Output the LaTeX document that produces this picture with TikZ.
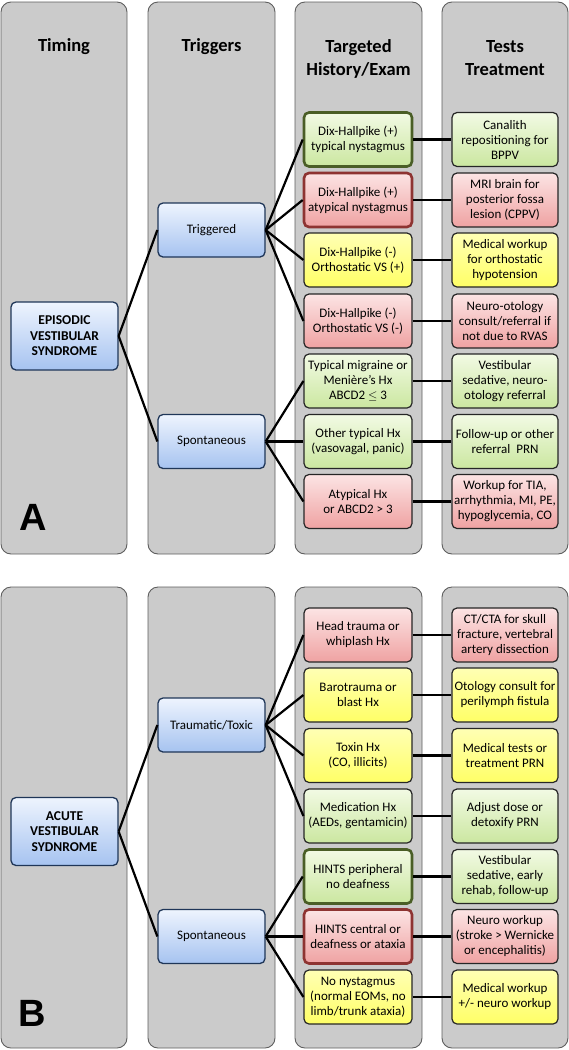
\documentclass[tikz,border=0pt]{standalone}
\usepackage{fontspec}
\setmainfont{Carlito}
\newfontfamily\panelfont{Liberation Sans}
\usepackage{tikz}

\definecolor{lanefill}{HTML}{CBCBCB}
\definecolor{laneline}{HTML}{5E5E5E}
\definecolor{blueT}{HTML}{EEF4FE}
\definecolor{blueB}{HTML}{A6C3F0}
\definecolor{blueline}{HTML}{1F3658}
\definecolor{greenT}{HTML}{F2FAE4}
\definecolor{greenB}{HTML}{CBE7A0}
\definecolor{greenline}{HTML}{4A5E26}
\definecolor{redT}{HTML}{FCE4E4}
\definecolor{redB}{HTML}{EFA2A2}
\definecolor{redline}{HTML}{8E3432}
\definecolor{yelT}{HTML}{FFFFB4}
\definecolor{yelB}{HTML}{FFFF66}
\definecolor{boxline}{HTML}{262626}

\begin{document}
\begin{tikzpicture}[x=1pt, y=-1pt,
    lane/.style={draw=laneline, fill=lanefill, rounded corners=10pt, line width=0.9pt},
    head/.style={font=\fontsize{18.5}{23}\selectfont\bfseries, align=center},
    trig/.style={draw=blueline, line width=1.3pt, rounded corners=5pt, top color=blueT, bottom color=blueB,
                 minimum width=107pt, minimum height=54pt, font=\fontsize{13}{15}\selectfont, align=center},
    syn/.style={trig, minimum height=68pt, font=\fontsize{13.5}{15.5}\selectfont\bfseries},
    cbox/.style={draw=boxline, line width=1.2pt, rounded corners=5pt, top color=#1T, bottom color=#1B,
                 minimum height=54pt, inner sep=0.5pt, font=\fontsize{13}{15}\selectfont, align=center},
    hx/.style={cbox=#1, minimum width=108pt},
    tx/.style={cbox=#1, minimum width=106pt},
    heavy/.style={draw=#1line, line width=2.6pt},
    link/.style={line width=2.2pt, black}]

\useasboundingbox (0,0) rectangle (569,1050);

% lanes
\foreach \xa/\xb in {1/127, 148/275, 295/422, 442/568} {
    \draw[lane] (\xa,2) rectangle (\xb,554);
    \draw[lane] (\xa,587) rectangle (\xb,1048);
}

% headers
\node[head] (hTime) at (64,47) {Timing};
\node[head] (hTrig) at (211.5,47) {Triggers};
\node[head] (hHx) at (358.5,58.5) {Targeted\\History/Exam};
\node[head] (hTx) at (505,58.5) {Tests\\Treatment};

% Panel A
\node[syn] (aTime) at (64.5,336) {EPISODIC\\VESTIBULAR\\SYNDROME};
\node[trig] (aTrig) at (211.5,230) {Triggered};
\node[trig] (aSpon) at (211.5,441.5) {Spontaneous};

\node[hx=green, heavy=green] (aHx1) at (358,139.5) {Dix-Hallpike (+)\\typical nystagmus};
\node[hx=red, heavy=red] (aHx2) at (358,200) {Dix-Hallpike (+)\\atypical nystagmus};
\node[hx=yel] (aHx3) at (358,260) {Dix-Hallpike (-)\\Orthostatic VS (+)};
\node[hx=red] (aHx4) at (358,321) {Dix-Hallpike (-)\\Orthostatic VS (-)};
\node[hx=green] (aHx5) at (358,381) {Typical migraine or\\Menière’s Hx\\ABCD2 $\le$ 3};
\node[hx=green] (aHx6) at (358,441.5) {Other typical Hx\\(vasovagal, panic)};
\node[hx=red] (aHx7) at (358,501.5) {Atypical Hx\\or ABCD2 > 3};

\node[tx=green] (aTx1) at (505,139.5) {Canalith\\repositioning for\\BPPV};
\node[tx=red] (aTx2) at (505,200) {MRI brain for\\posterior fossa\\lesion (CPPV)};
\node[tx=yel] (aTx3) at (505,260) {Medical workup\\for orthostatic\\hypotension};
\node[tx=red] (aTx4) at (505,321) {Neuro-otology\\consult/referral if\\not due to RVAS};
\node[tx=green] (aTx5) at (505,381) {Vestibular\\sedative, neuro-\\otology referral};
\node[tx=green] (aTx6) at (505,441.5) {Follow-up or other\\referral\ \ PRN};
\node[tx=red] (aTx7) at (505,501.5) {Workup for TIA,\\arrhythmia, MI, PE,\\hypoglycemia, CO};

\node[font=\panelfont\bfseries\fontsize{38}{38}\selectfont] (aTag) at (33,517) {A};

\draw[link] (aTime.east) -- (aTrig.west);
\draw[link] (aTime.east) -- (aSpon.west);
\foreach \i in {1,...,4} \draw[link] (aTrig.east) -- (aHx\i.west);
\foreach \i in {5,6,7} \draw[link] (aSpon.east) -- (aHx\i.west);
\foreach \i in {1,...,7} \draw[link] (aHx\i.east) -- (aTx\i.west);

% Panel B
\node[syn] (bTime) at (64.5,831.5) {ACUTE\\VESTIBULAR\\SYDNROME};
\node[trig] (bTrau) at (211.5,725) {Traumatic/Toxic};
\node[trig] (bSpon) at (211.5,936.5) {Spontaneous};

\node[hx=red] (bHx1) at (358,635) {Head trauma or\\whiplash Hx};
\node[hx=yel] (bHx2) at (358,695) {Barotrauma or\\blast Hx};
\node[hx=yel] (bHx3) at (358,755.5) {Toxin Hx\\(CO, illicits)};
\node[hx=green] (bHx4) at (358,816) {Medication Hx\\(AEDs, gentamicin)};
\node[hx=green, heavy=green] (bHx5) at (358,876.5) {HINTS peripheral\\no deafness};
\node[hx=red, heavy=red] (bHx6) at (358,936.5) {HINTS central or\\deafness or ataxia};
\node[hx=yel] (bHx7) at (358,997) {No nystagmus\\(normal EOMs, no\\limb/trunk ataxia)};

\node[tx=red] (bTx1) at (505,635) {CT/CTA for skull\\fracture, vertebral\\artery dissection};
\node[tx=yel] (bTx2) at (505,695) {Otology consult for\\perilymph fistula};
\node[tx=yel] (bTx3) at (505,755.5) {Medical tests or\\treatment PRN};
\node[tx=green] (bTx4) at (505,816) {Adjust dose or\\detoxify PRN};
\node[tx=green] (bTx5) at (505,876.5) {Vestibular\\sedative, early\\rehab, follow-up};
\node[tx=red] (bTx6) at (505,936.5) {Neuro workup\\(stroke > Wernicke\\or encephalitis)};
\node[tx=yel] (bTx7) at (505,997) {Medical workup\\+/- neuro workup};

\node[font=\panelfont\bfseries\fontsize{38}{38}\selectfont] (bTag) at (32,1013) {B};

\draw[link] (bTime.east) -- (bTrau.west);
\draw[link] (bTime.east) -- (bSpon.west);
\foreach \i in {1,...,4} \draw[link] (bTrau.east) -- (bHx\i.west);
\foreach \i in {5,6,7} \draw[link] (bSpon.east) -- (bHx\i.west);
\foreach \i in {1,...,7} \draw[link] (bHx\i.east) -- (bTx\i.west);
\end{tikzpicture}
\end{document}
